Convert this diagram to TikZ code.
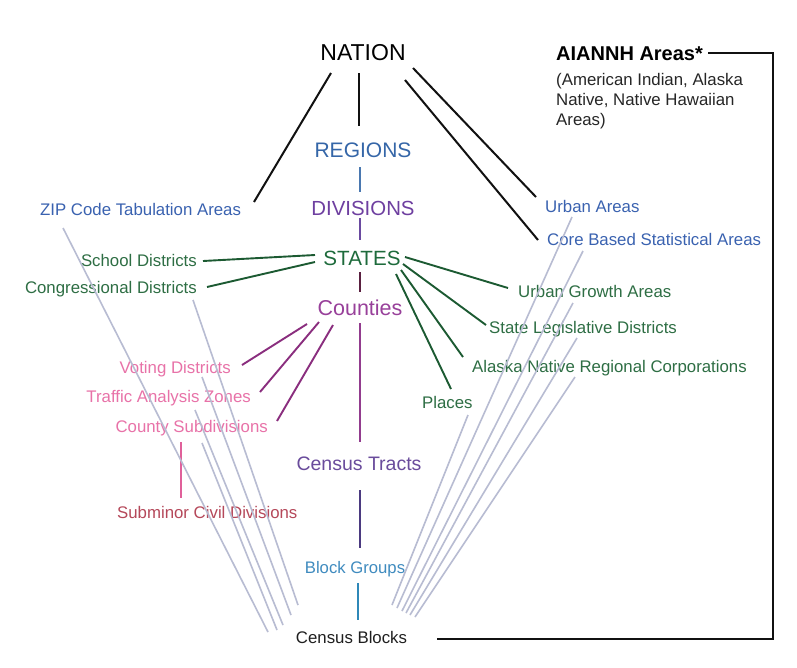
\documentclass[tikz,border=0pt]{standalone}
\usepackage{fontspec}
\setmainfont{Liberation Sans}
\usetikzlibrary{calc}
\definecolor{labblue}{HTML}{3A62B0}
\definecolor{regblue}{HTML}{3566A8}
\definecolor{divpurple}{HTML}{6E3FA0}
\definecolor{stgreen}{HTML}{1E6B3C}
\definecolor{coumag}{HTML}{98409A}
\definecolor{trpurple}{HTML}{6A4C9C}
\definecolor{bgblue}{HTML}{3F8BBF}
\definecolor{labgreen}{HTML}{2E6E44}
\definecolor{labpink}{HTML}{E872A8}
\definecolor{subred}{HTML}{B5485A}
\definecolor{lnblack}{HTML}{111111}
\definecolor{lnrd}{HTML}{4A78B0}
\definecolor{lnds}{HTML}{6A4AA0}
\definecolor{lnsc}{HTML}{5A2040}
\definecolor{lnct}{HTML}{923C8E}
\definecolor{lntb}{HTML}{4B3A80}
\definecolor{lnbb}{HTML}{2F88B8}
\definecolor{lngreen}{HTML}{1C5A32}
\definecolor{lnmag}{HTML}{8A2E7E}
\definecolor{lnpink}{HTML}{E0609A}
\definecolor{lngray}{HTML}{B8BCD2}
\begin{document}
\begin{tikzpicture}[x=1pt,y=-1pt,
  txt/.style={inner sep=0pt},
  lbl/.style={txt,font=\fontsize{16.8}{20}\selectfont},
  big/.style={txt,font=\fontsize{#1}{#1}\selectfont},
  blk/.style={line width=2pt,draw=lnblack},
  con/.style={line width=1.9pt},
  grayln/.style={line width=1.6pt,draw=lngray}]
\useasboundingbox[fill=white] (0,0) rectangle (797,667);

% hierarchy spine
\node[big=23,anchor=base] (nation) at (363,60) {NATION};
\node[big=21,anchor=base,text=regblue] (regions) at (363,157) {REGIONS};
\node[big=20.4,anchor=base,text=divpurple] (divisions) at (363,215) {DIVISIONS};
\node[big=20.6,anchor=base,text=stgreen] (states) at (362,265) {STATES};
\node[big=21.5,anchor=base,text=coumag] (counties) at (360,315) {Counties};
\node[big=19.5,anchor=base,text=trpurple] (tracts) at (359,470) {Census Tracts};
\node[big=16.7,anchor=base,text=bgblue] (bgroups) at (355,573) {Block Groups};
\node[big=16.8,anchor=base,text=black!88] (blocks) at (351.5,643) {Census Blocks};

% AIANNH
\node[txt,font=\fontsize{20}{20}\selectfont\bfseries,anchor=base west] (aiannh) at (556,60) {AIANNH Areas*};
\node[lbl,anchor=base west,text=black!85] (sub1) at (556,85) {(American Indian, Alaska};
\node[lbl,anchor=base west,text=black!85] (sub2) at (556,105) {Native, Native Hawaiian};
\node[lbl,anchor=base west,text=black!85] (sub3) at (556,125) {Areas)};

% side labels
\node[lbl,anchor=base west,text=labblue] (zip) at (40,215) {ZIP Code Tabulation Areas};
\node[lbl,anchor=base west,text=labblue] (urban) at (545,212) {Urban Areas};
\node[lbl,anchor=base west,text=labblue] (cbsa) at (547,245) {Core Based Statistical Areas};
\node[lbl,anchor=base east,text=labgreen] (school) at (197,266) {School Districts};
\node[lbl,anchor=base east,text=labgreen] (congr) at (197,293) {Congressional Districts};
\node[lbl,anchor=base west,text=labgreen] (uga) at (518,297) {Urban Growth Areas};
\node[lbl,anchor=base west,text=labgreen] (sld) at (489,333) {State Legislative Districts};
\node[lbl,anchor=base west,text=labgreen] (anrc) at (472,372) {Alaska Native Regional Corporations};
\node[lbl,anchor=base west,text=labgreen] (places) at (422,408) {Places};
\node[lbl,anchor=base east,text=labpink] (voting) at (231,373) {Voting Districts};
\node[lbl,anchor=base east,text=labpink] (traffic) at (251,402) {Traffic Analysis Zones};
\node[lbl,anchor=base east,text=labpink] (cousub) at (268,432) {County Subdivisions};
\node[lbl,anchor=base west,text=subred] (subminor) at (117,518) {Subminor Civil Divisions};

% NATION connectors
\draw[blk] ($(nation.base)+(-32,13)$) -- ($(zip.base west)+(214,-13)$);
\draw[blk] ($(nation.base)+(-4,13)$) -- ($(regions.base)+(-4,-31)$);
\draw[blk] ($(nation.base)+(50,8)$) -- ($(urban.base west)+(-9,-15)$);
\draw[blk] ($(nation.base)+(42,20)$) -- ($(cbsa.base west)+(-9,-5)$);

% spine connectors
\draw[con,draw=lnrd] ($(regions.base)+(-3,10)$) -- ($(divisions.base)+(-3,-23)$);
\draw[con,draw=lnds] ($(divisions.base)+(-3,3)$) -- ($(states.base)+(-2,-25)$);
\draw[con,draw=lnsc] ($(states.base)+(-2,7)$) -- ($(counties.base)+(0,-23)$);
\draw[con,draw=lnct] ($(counties.base)+(0,8)$) -- ($(tracts.base)+(1,-28)$);
\draw[con,draw=lntb] ($(tracts.base)+(1,20)$) -- ($(bgroups.base)+(5,-25)$);
\draw[con,draw=lnbb] ($(bgroups.base)+(3,10)$) -- ($(blocks.base)+(6.5,-23)$);

% STATES connectors
\draw[con,draw=lngreen] ($(states.base)+(-47,-10)$) -- ($(school.base east)+(6,-5)$);
\draw[con,draw=lngreen] ($(states.base)+(-47,-3)$) -- ($(congr.base east)+(10,-6)$);
\draw[con,draw=lngreen] ($(states.base)+(43,-8)$) -- ($(uga.base west)+(-10,-9)$);
\draw[con,draw=lngreen] ($(states.base)+(41,-1)$) -- ($(sld.base west)+(-3,-8)$);
\draw[con,draw=lngreen] ($(states.base)+(39,5)$) -- ($(anrc.base west)+(-9,-15)$);
\draw[con,draw=lngreen] ($(states.base)+(34,9)$) -- ($(places.base west)+(29,-19)$);

% Counties connectors
\draw[con,draw=lnmag] ($(counties.base)+(-53,9)$) -- ($(voting.base east)+(11,-8)$);
\draw[con,draw=lnmag] ($(counties.base)+(-41,7)$) -- ($(traffic.base east)+(9,-10)$);
\draw[con,draw=lnmag] ($(counties.base)+(-27,10)$) -- ($(cousub.base east)+(9,-11)$);
\draw[con,draw=lnpink] ($(cousub.base east)+(-87,10)$) -- ($(subminor.base west)+(64,-20)$);

% AIANNH connector
\draw[blk] ($(aiannh.base west)+(152,-7)$) -- ++(65,0) |- ($(blocks.base)+(85.5,-4)$);

% gray connectors to Census Blocks
\draw[grayln] ($(zip.base west)+(23,13)$) -- ($(blocks.base)+(-83.5,-11)$);
\draw[grayln] ($(congr.base east)+(-4,7)$) -- ($(blocks.base)+(-53.5,-38)$);
\draw[grayln] ($(voting.base east)+(-29,4)$) -- ($(blocks.base)+(-60.5,-28)$);
\draw[grayln] ($(traffic.base east)+(-56,8)$) -- ($(blocks.base)+(-68.5,-18)$);
\draw[grayln] ($(cousub.base east)+(-66,11)$) -- ($(blocks.base)+(-74.5,-13)$);
\draw[grayln] ($(urban.base west)+(27,5)$) -- ($(blocks.base)+(45.5,-35)$);
\draw[grayln] ($(cbsa.base west)+(36,6)$) -- ($(blocks.base)+(50.5,-32)$);
\draw[grayln] ($(uga.base west)+(55,6)$) -- ($(blocks.base)+(54.5,-30)$);
\draw[grayln] ($(sld.base west)+(88,5)$) -- ($(blocks.base)+(58.5,-28)$);
\draw[grayln] ($(anrc.base west)+(103,5)$) -- ($(blocks.base)+(63.5,-26)$);
\draw[grayln] ($(places.base west)+(46,7)$) -- ($(blocks.base)+(40.5,-38)$);
\end{tikzpicture}
\end{document}
